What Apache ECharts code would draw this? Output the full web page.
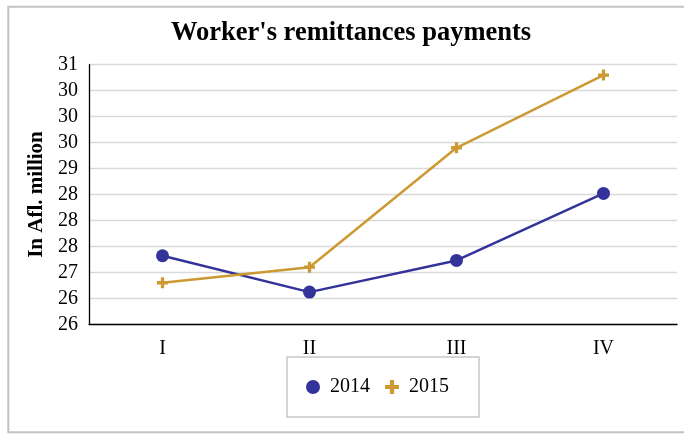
<!DOCTYPE html>
<html>
<head>
<meta charset="utf-8">
<script src="https://cdn.jsdelivr.net/npm/echarts@6/dist/echarts.min.js"></script>
<style>
  html, body { margin: 0; padding: 0; background: #fff; }
  #chart { width: 684px; height: 434px; }
</style>
</head>
<body>
<div id="chart"></div>
<script>
  // quarters
  const categories = ['I', 'II', 'III', 'IV']
  // In Afl. million
  const values2014 = [27.32, 26.62, 27.23, 28.52]
  const values2015 = [26.80, 27.10, 29.40, 30.80]
  // labels as printed on the original axis (rounded from 0.5 steps)
  const yTickLabels = ['26', '26', '27', '28', '28', '28', '29', '30', '30', '30', '31']
  const yMin = 26
  const yStep = 0.5

  const serif = '"Liberation Serif", "DejaVu Serif", serif'
  const plusPath = 'path://M3.5,0H6.5V3.5H10V6.5H6.5V10H3.5V6.5H0V3.5H3.5Z'

  const chart = echarts.init(document.getElementById('chart'))
  chart.setOption({
    backgroundColor: '#fff',
    animation: false,
    graphic: [{
      type: 'rect',
      shape: { x: 8.3, y: 6.7, width: 700, height: 425.5 },
      style: { fill: 'none', stroke: '#c3c3c3', lineWidth: 2 },
      silent: true,
    }],
    title: {
      text: "Worker's remittances payments",
      left: 166,
      top: 15,
      textStyle: {
        fontFamily: serif,
        fontSize: 26.5,
        fontWeight: 'bold',
        color: '#000',
      },
    },
    legend: {
      left: 287,
      top: 357,
      padding: [20, 30, 20, 19],
      borderColor: '#c8c8c8',
      borderWidth: 1.5,
      itemWidth: 14,
      itemHeight: 14,
      itemGap: 15,
      data: [
        { name: '2014', icon: 'circle' },
        { name: '2015', icon: plusPath },
      ],
      textStyle: {
        fontFamily: serif,
        fontSize: 20,
        color: '#000',
        padding: [0, 0, 0, 5],
      },
    },
    grid: {
      left: 89,
      right: 7,
      top: 64.7,
      bottom: 109.7,
    },
    xAxis: {
      type: 'category',
      data: categories,
      boundaryGap: true,
      axisLine: { lineStyle: { color: '#000', width: 1.3 } },
      axisTick: { show: false },
      axisLabel: {
        fontFamily: serif,
        fontSize: 20,
        color: '#000',
        margin: 14,
      },
    },
    yAxis: {
      type: 'value',
      min: yMin,
      max: 31,
      interval: yStep,
      name: 'In Afl. million',
      nameLocation: 'middle',
      nameGap: 40,
      nameTextStyle: {
        fontFamily: serif,
        fontSize: 21,
        fontWeight: 'bold',
        color: '#000',
      },
      axisLine: { show: true, lineStyle: { color: '#000', width: 1.3 } },
      axisTick: { show: false },
      splitLine: { lineStyle: { color: '#d9d9d9', width: 1.3 } },
      axisLabel: {
        fontFamily: serif,
        fontSize: 20,
        color: '#000',
        margin: 11,
        formatter: function (v) {
          return yTickLabels[Math.round((v - yMin) / yStep)]
        },
      },
    },
    series: [
      {
        name: '2014',
        type: 'line',
        data: values2014,
        symbol: 'circle',
        symbolSize: 13,
        lineStyle: { color: '#333399', width: 2.5 },
        itemStyle: { color: '#333399' },
      },
      {
        name: '2015',
        type: 'line',
        data: values2015,
        symbol: plusPath,
        symbolSize: 11,
        lineStyle: { color: '#cc9933', width: 2.5 },
        itemStyle: { color: '#cc9933' },
      },
    ],
  })
</script>
</body>
</html>
